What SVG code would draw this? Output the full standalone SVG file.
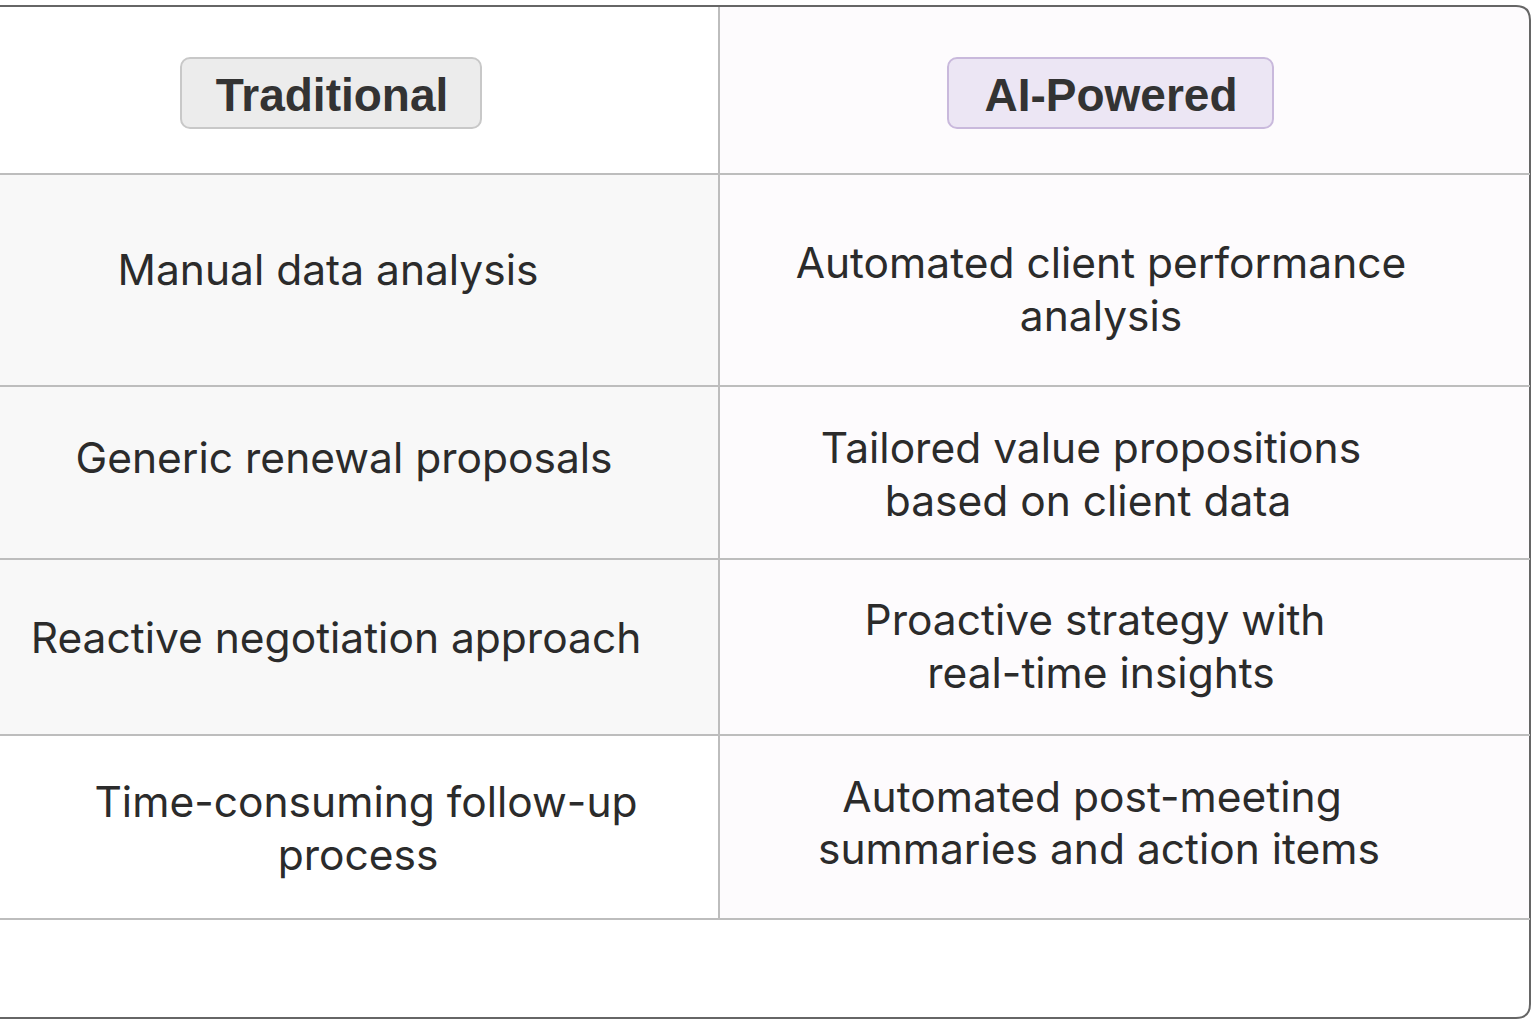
<svg xmlns="http://www.w3.org/2000/svg" width="1536" height="1024" viewBox="0 0 1536 1024">
<style>
.t{font-family:Inter,"Noto Sans","DejaVu Sans",sans-serif;font-size:42.5px;fill:#2b2b2b;text-anchor:middle}
.h{font-family:"Liberation Sans",Arial,sans-serif;font-weight:bold;font-size:46px;fill:#333;text-anchor:middle}
.ln{stroke:#bdbdbd;stroke-width:2;fill:none}
</style>
<rect width="1536" height="1024" fill="#ffffff"/>
<rect x="0" y="175" width="719" height="560" fill="#f8f8f8"/>
<rect x="719" y="7" width="811" height="912" fill="#fdfbfd"/>
<path d="M-2 6 H1516 Q1530 6 1530 20 V1004 Q1530 1018 1516 1018 H-2" fill="none" stroke="#666" stroke-width="2"/>
<g id="connectors">
<line class="ln" x1="719" y1="7" x2="719" y2="919"/>
<line class="ln" x1="0" y1="174" x2="1530" y2="174"/>
<line class="ln" x1="0" y1="386" x2="1530" y2="386"/>
<line class="ln" x1="0" y1="559" x2="1530" y2="559"/>
<line class="ln" x1="0" y1="735" x2="1530" y2="735"/>
<line class="ln" x1="0" y1="919" x2="1530" y2="919"/>
</g>
<g id="h1"><rect x="181" y="58" width="300" height="70" rx="9" fill="#ececec" stroke="#c8c8c8" stroke-width="2"/><text class="h" x="332" y="111">Traditional</text></g>
<g id="h2"><rect x="948" y="58" width="325" height="70" rx="9" fill="#ece6f4" stroke="#c9b9dc" stroke-width="2"/><text class="h" x="1111" y="111">AI-Powered</text></g>
<g id="r1l"><text class="t" x="328" y="285">Manual data analysis</text></g>
<g id="r1r"><text class="t" x="1101" y="278">Automated client performance</text><text class="t" x="1101" y="331">analysis</text></g>
<g id="r2l"><text class="t" x="344" y="473">Generic renewal proposals</text></g>
<g id="r2r"><text class="t" x="1091" y="463">Tailored value propositions</text><text class="t" x="1088" y="516">based on client data</text></g>
<g id="r3l"><text class="t" x="336" y="653">Reactive negotiation approach</text></g>
<g id="r3r"><text class="t" x="1095" y="635">Proactive strategy with</text><text class="t" x="1101" y="688">real-time insights</text></g>
<g id="r4l"><text class="t" x="366" y="817">Time-consuming follow-up</text><text class="t" x="358" y="870">process</text></g>
<g id="r4r"><text class="t" x="1092" y="812">Automated post-meeting</text><text class="t" x="1099" y="864">summaries and action items</text></g>
</svg>
